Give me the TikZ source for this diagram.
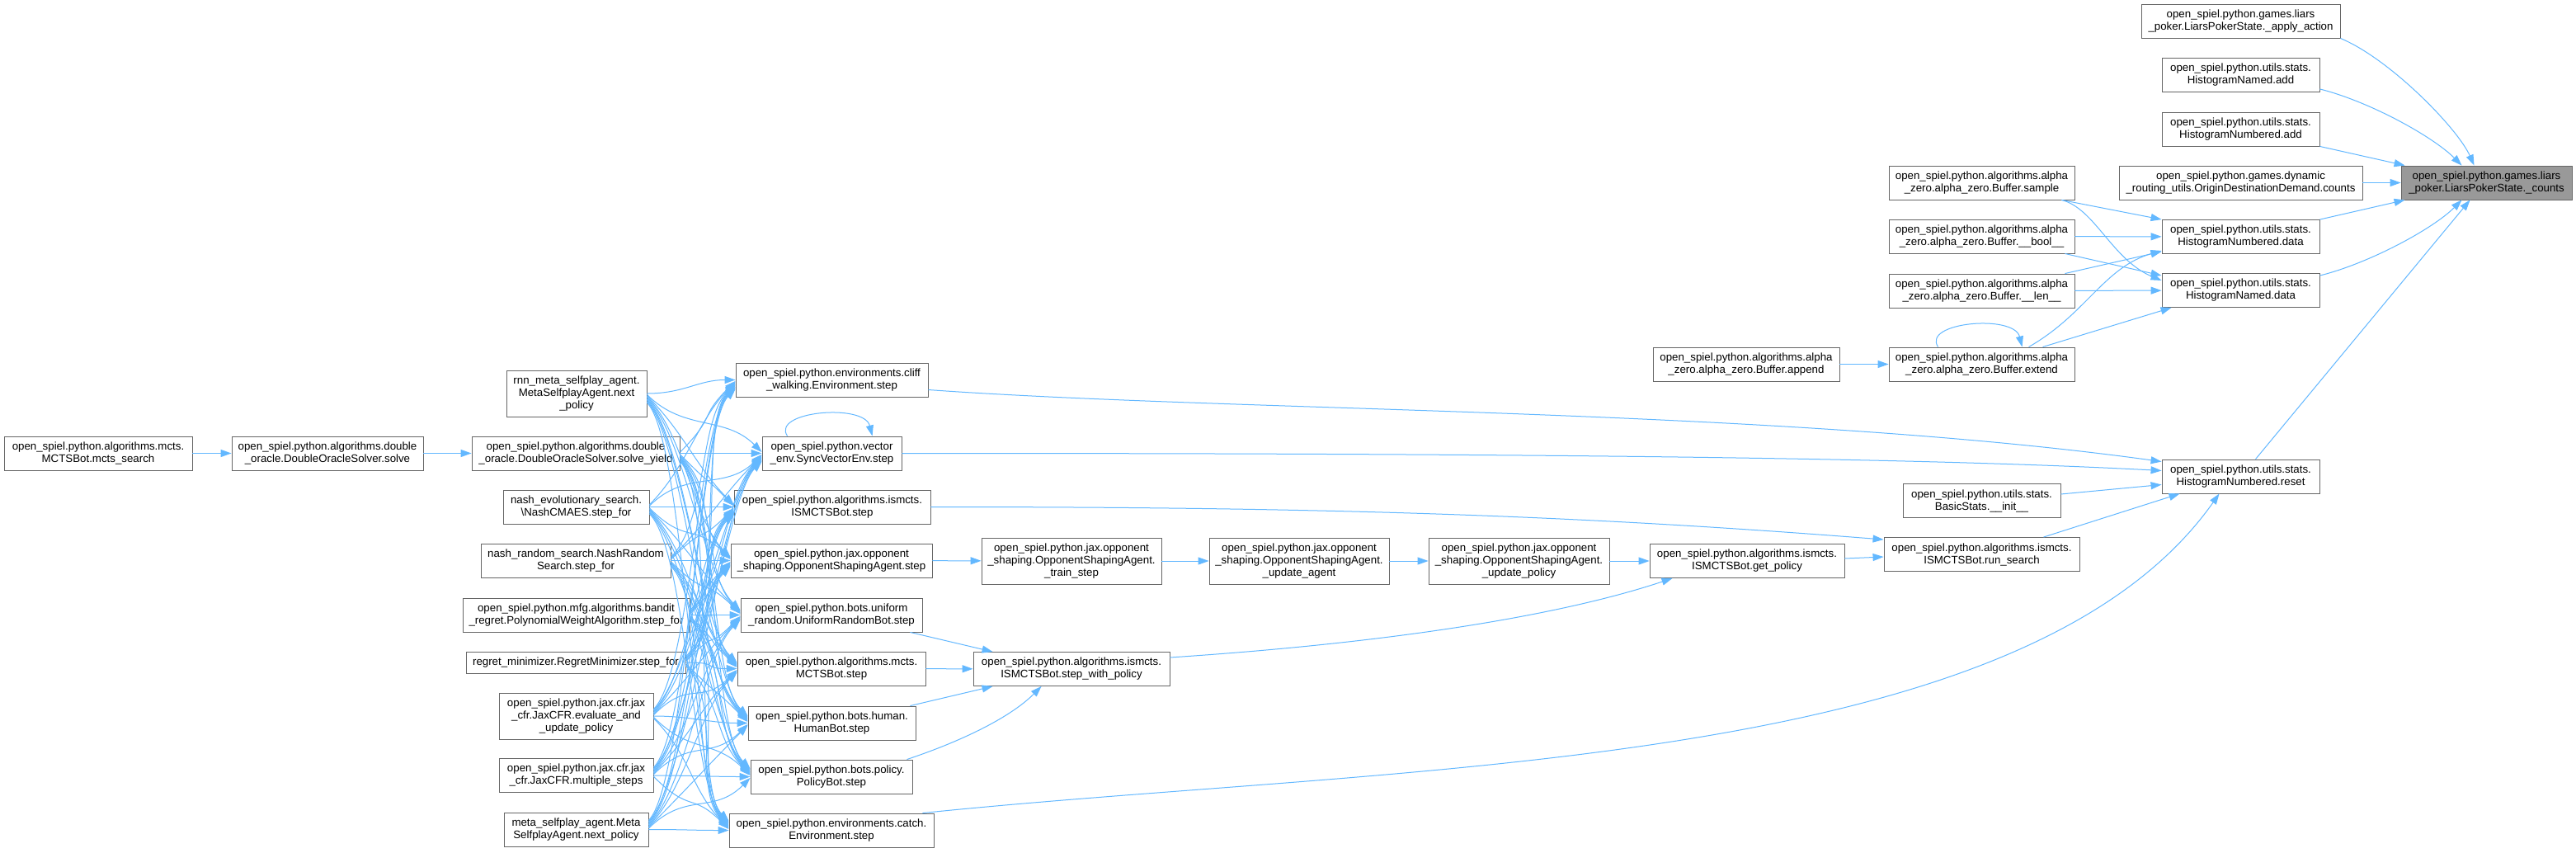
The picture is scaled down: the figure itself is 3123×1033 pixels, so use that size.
\documentclass[tikz,border=0pt]{standalone}
\usepackage{fontspec}
\setmainfont{Liberation Sans}
\usetikzlibrary{arrows.meta,calc}
\definecolor{Frame}{HTML}{666666}
\definecolor{Focus}{HTML}{999999}
\definecolor{Call}{HTML}{63B8FF}
\tikzset{
  fnbox/.style={draw=Frame,fill=white,line width=0.9pt,minimum height=41pt,inner sep=0pt,align=center,font=\fontsize{13.3}{15}\selectfont,text=black},
  tallbox/.style={fnbox,minimum height=56pt},
  rootbox/.style={fnbox,fill=Focus},
  call/.style={-{Triangle[length=13pt,width=9pt]},draw=Call,line width=1pt}
}

\begin{document}
\begin{tikzpicture}[x=1pt,y=-1pt]
  \path[use as bounding box,fill=white] (0,0) rectangle (3123,1033);

  % right part
  \node[rootbox,minimum width=207pt] (counts) at (3014.5,221.5) {open\_spiel.python.games.liars\\\_poker.LiarsPokerState.\_counts};
  \node[fnbox,minimum width=241pt] (apply) at (2716.5,25.5) {open\_spiel.python.games.liars\\\_poker.LiarsPokerState.\_apply\_action};
  \node[fnbox,minimum width=191pt] (hnamedadd) at (2716.5,91) {open\_spiel.python.utils.stats.\\HistogramNamed.add};
  \node[fnbox,minimum width=191pt] (hnumadd) at (2716.5,156.5) {open\_spiel.python.utils.stats.\\HistogramNumbered.add};
  \node[fnbox,minimum width=295pt] (dyncounts) at (2716.5,221.5) {open\_spiel.python.games.dynamic\\\_routing\_utils.OriginDestinationDemand.counts};
  \node[fnbox,minimum width=191pt] (hnumdata) at (2716.5,287) {open\_spiel.python.utils.stats.\\HistogramNumbered.data};
  \node[fnbox,minimum width=191pt] (hnameddata) at (2716.5,352) {open\_spiel.python.utils.stats.\\HistogramNamed.data};
  \node[fnbox,minimum width=191pt] (reset) at (2716.5,577.5) {open\_spiel.python.utils.stats.\\HistogramNumbered.reset};

  \node[fnbox,minimum width=225pt] (sample) at (2402.5,221.5) {open\_spiel.python.algorithms.alpha\\\_zero.alpha\_zero.Buffer.sample};
  \node[fnbox,minimum width=225pt] (bufbool) at (2402.5,286.5) {open\_spiel.python.algorithms.alpha\\\_zero.alpha\_zero.Buffer.\_\_bool\_\_};
  \node[fnbox,minimum width=225pt] (buflen) at (2402.5,352.5) {open\_spiel.python.algorithms.alpha\\\_zero.alpha\_zero.Buffer.\_\_len\_\_};
  \node[fnbox,minimum width=225pt] (extend) at (2402.5,441.5) {open\_spiel.python.algorithms.alpha\\\_zero.alpha\_zero.Buffer.extend};
  \node[fnbox,minimum width=226pt] (append) at (2117,441.5) {open\_spiel.python.algorithms.alpha\\\_zero.alpha\_zero.Buffer.append};
  \node[fnbox,minimum width=191pt] (basicinit) at (2402.5,607) {open\_spiel.python.utils.stats.\\BasicStats.\_\_init\_\_};
  \node[fnbox,minimum width=237pt] (runsearch) at (2402.5,672) {open\_spiel.python.algorithms.ismcts.\\ISMCTSBot.run\_search};
  \node[fnbox,minimum width=236pt] (getpolicy) at (2118,680) {open\_spiel.python.algorithms.ismcts.\\ISMCTSBot.get\_policy};

  % opponent shaping chain
  \node[tallbox,minimum width=219pt] (updpolicy) at (1841.5,680) {open\_spiel.python.jax.opponent\\\_shaping.OpponentShapingAgent.\\\_update\_policy};
  \node[tallbox,minimum width=218pt] (updagent) at (1575,680) {open\_spiel.python.jax.opponent\\\_shaping.OpponentShapingAgent.\\\_update\_agent};
  \node[tallbox,minimum width=218pt] (trainstep) at (1299,680) {open\_spiel.python.jax.opponent\\\_shaping.OpponentShapingAgent.\\\_train\_step};
  \node[fnbox,minimum width=238pt] (stepwp) at (1299,811) {open\_spiel.python.algorithms.ismcts.\\ISMCTSBot.step\_with\_policy};

  % step functions
  \node[fnbox,minimum width=233pt] (cliff) at (1008.5,460.5) {open\_spiel.python.environments.cliff\\\_walking.Environment.step};
  \node[fnbox,minimum width=169pt] (syncenv) at (1008.5,549.5) {open\_spiel.python.vector\\\_env.SyncVectorEnv.step};
  \node[fnbox,minimum width=238pt] (ismctsstep) at (1009,614.5) {open\_spiel.python.algorithms.ismcts.\\ISMCTSBot.step};
  \node[fnbox,minimum width=244pt] (oppstep) at (1008,679.5) {open\_spiel.python.jax.opponent\\\_shaping.OpponentShapingAgent.step};
  \node[fnbox,minimum width=220pt] (uniform) at (1008,745.5) {open\_spiel.python.bots.uniform\\\_random.UniformRandomBot.step};
  \node[fnbox,minimum width=228pt] (mctsstep) at (1008,810.5) {open\_spiel.python.algorithms.mcts.\\MCTSBot.step};
  \node[fnbox,minimum width=203pt] (humanstep) at (1008.5,876.5) {open\_spiel.python.bots.human.\\HumanBot.step};
  \node[fnbox,minimum width=196pt] (policystep) at (1008,941.5) {open\_spiel.python.bots.policy.\\PolicyBot.step};
  \node[fnbox,minimum width=248pt] (catchstep) at (1008,1006.5) {open\_spiel.python.environments.catch.\\Environment.step};

  % callers
  \node[tallbox,minimum width=170pt] (rnn) at (699,477) {rnn\_meta\_selfplay\_agent.\\MetaSelfplayAgent.next\\\_policy};
  \node[fnbox,minimum width=252pt] (solveyield) at (698,549.5) {open\_spiel.python.algorithms.double\\\_oracle.DoubleOracleSolver.solve\_yield};
  \node[fnbox,minimum width=177pt] (nashcmaes) at (698.5,614.5) {nash\_evolutionary\_search.\\\textbackslash NashCMAES.step\_for};
  \node[fnbox,minimum width=230pt] (nashrandom) at (698,679.5) {nash\_random\_search.NashRandom\\Search.step\_for};
  \node[fnbox,minimum width=275pt] (bandit) at (698.5,745.5) {open\_spiel.python.mfg.algorithms.bandit\\\_regret.PolynomialWeightAlgorithm.step\_for};
  \node[fnbox,minimum width=266pt,minimum height=26pt] (regret) at (698,803) {regret\_minimizer.RegretMinimizer.step\_for};
  \node[tallbox,minimum width=187pt] (evaluate) at (698.5,868) {open\_spiel.python.jax.cfr.jax\\\_cfr.JaxCFR.evaluate\_and\\\_update\_policy};
  \node[fnbox,minimum width=187pt] (multistep) at (698.5,940) {open\_spiel.python.jax.cfr.jax\\\_cfr.JaxCFR.multiple\_steps};
  \node[fnbox,minimum width=175pt] (metanext) at (698.5,1005.5) {meta\_selfplay\_agent.Meta\\SelfplayAgent.next\_policy};
  \node[fnbox,minimum width=232pt] (solve) at (397,549.5) {open\_spiel.python.algorithms.double\\\_oracle.DoubleOracleSolver.solve};
  \node[fnbox,minimum width=228pt] (mctssearch) at (119,549.5) {open\_spiel.python.algorithms.mcts.\\MCTSBot.mcts\_search};

  % calls into _counts
  \draw[call] (apply.south east) .. controls +(60,25) and +(-20,-45) .. ($(counts.north)+(-15,0)$);
  \draw[call] ($(hnamedadd.south east)+(0,-4)$) .. controls +(60,15) and +(-35,-35) .. ($(counts.north)+(-30,0)$);
  \draw[call] (hnumadd.south east) -- ($(counts.north west)+(5,0)$);
  \draw[call] (dyncounts) -- (counts);
  \draw[call] (hnumdata.north east) -- ($(counts.south west)+(5,0)$);
  \draw[call] ($(hnameddata.north east)+(0,3)$) .. controls +(60,-15) and +(-35,35) .. ($(counts.south)+(-30,0)$);
  \draw[call] ($(reset.north)+(18,0)$) -- ($(counts.south)+(-20,0)$);

  % buffer calls
  \draw[call] ($(sample.south east)+(-16,0)$) -- (hnumdata.north west);
  \draw[call] ($(sample.south east)+(-16,0)$) .. controls +(40,10) and +(-60,-25) .. ($(hnameddata.west)+(0,-12)$);
  \draw[call] (bufbool) -- (hnumdata);
  \draw[call] ($(bufbool.south east)+(-12,0)$) -- ($(hnameddata.north west)+(0,3)$);
  \draw[call] ($(buflen.north east)+(-12,0)$) -- ($(hnumdata.south west)+(0,-3)$);
  \draw[call] (buflen) -- (hnameddata);
  \draw[call] ($(extend.north)+(57,0)$) .. controls +(70,-40) and +(-70,20) .. ($(hnumdata.south west)+(0,-4)$);
  \draw[call] ($(extend.north)+(74,0)$) -- ($(hnameddata.south west)+(12,0)$);
  \draw[call] ($(extend.north west)+(60,0)$) .. controls +(-20,-30) and +(-10,-40) .. ($(extend.north west)+(162,0)$);
  \draw[call] (append) -- (extend);

  % calls into reset
  \draw[call] ($(cliff.east)+(0,12)$) .. controls +(375,27) and +(-470,-65) .. ($(reset.north west)+(0,3)$);
  \draw[call] (syncenv.east) .. controls +(700,0) and +(-320,-17) .. ($(reset.west)+(0,-7)$);
  \draw[call] ($(basicinit.east)+(0,-8)$) -- ($(reset.west)+(0,10)$);
  \draw[call] ($(runsearch.north)+(75,0)$) -- ($(reset.south west)+(22,0)$);
  \draw[call] ($(catchstep.north east)+(-14,0)$) .. controls +(580,-60) and +(-240,340) .. ($(reset.south)+(-26,0)$);

  % ismcts
  \draw[call] (ismctsstep.east) .. controls +(470,0) and +(-380,-30) .. ($(runsearch.north west)+(0,3)$);
  \draw[call] ($(getpolicy.east)+(0,-3)$) -- ($(runsearch.west)+(0,3)$);
  \draw[call] (updpolicy) -- (getpolicy);
  \draw[call] (updagent) -- (updpolicy);
  \draw[call] (trainstep) -- (updagent);
  \draw[call] (oppstep) -- (trainstep);
  \draw[call] ($(stepwp.east)+(0,-14)$) .. controls +(300,-20) and +(-120,40) .. ($(getpolicy.south west)+(28,0)$);
  \draw[call] ($(uniform.south east)+(-15,0)$) -- ($(stepwp.north west)+(24,0)$);
  \draw[call] (mctsstep) -- (stepwp);
  \draw[call] ($(humanstep.north east)+(-7,0)$) -- ($(stepwp.south west)+(24,0)$);
  \draw[call] ($(policystep.north east)+(-7,0)$) .. controls +(60,-20) and +(-40,40) .. ($(stepwp.south west)+(83,0)$);
  \draw[call] ($(syncenv.north west)+(31,0)$) .. controls +(-20,-30) and +(-10,-40) .. ($(syncenv.north west)+(134,0)$);

  % double oracle
  \draw[call] (mctssearch) -- (solve);
  \draw[call] (solve) -- (solveyield);

  % every caller reaches every step
  \foreach \s [count=\i] in {rnn,solveyield,nashcmaes,nashrandom,bandit,regret,evaluate,multistep,metanext}
    \foreach \t [count=\j] in {cliff,syncenv,ismctsstep,oppstep,uniform,mctsstep,humanstep,policystep,catchstep}
    {
      \pgfmathsetmacro\dd{\j-\i}
      \pgfmathsetmacro\sg{sign(\dd)}
      \draw[call] ($(\s.east)+(0,1.4*\dd)$) .. controls +(45,45*\sg) and +(-45,-45*\sg) .. ($(\t.west)+(0,-1.4*\dd)$);
    }
\end{tikzpicture}
\end{document}
